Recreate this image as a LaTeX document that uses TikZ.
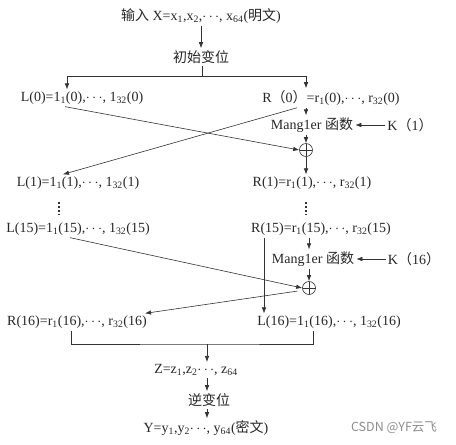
\documentclass[tikz,border=0pt]{standalone}
\usepackage{fontspec}
\setmainfont{Liberation Serif}
\newfontfamily\cjk{Noto Sans CJK SC}
\usetikzlibrary{arrows.meta}
\tikzstyle{every node}=[inner sep=2pt,text=black!85]
\tikzstyle{lbl}=[font=\fontsize{14}{16}\selectfont]
\tikzstyle{xorop}=[circle,draw,minimum size=13pt,inner sep=0pt,
  path picture={\draw (path picture bounding box.north) -- (path picture bounding box.south)
  (path picture bounding box.west) -- (path picture bounding box.east);}]
\tikzstyle{dots}=[line width=1.3pt,dash pattern=on 2.5pt off 1.5pt]
\newcommand\zh[1]{{\cjk #1}}
\newcommand\dn[1]{\textsubscript{#1}}

\begin{document}
\begin{tikzpicture}[x=1pt,y=-1pt,>={Latex[length=6pt,width=4.5pt]},lbl,color=black!80,line width=0.6pt]
\useasboundingbox (0,0) rectangle (456,445);
\node (in)  at (201,16)                          {\zh{输入} X=x\dn{1},x\dn{2},$\cdots$, x\dn{64}(\zh{明文})};
\node (ip)  [below of=in,node distance=41pt]     {\zh{初始变位}};
\node (L0)  at (82,98)                           {L(0)=1\dn{1}(0),$\cdots$, 1\dn{32}(0)};
\node (R0)  [right of=L0,node distance=249pt]    {R\zh{（}0\zh{）}=r\dn{1}(0),$\cdots$, r\dn{32}(0)};
\node (M1)  at (312,125)                         {Mang1er \zh{函数}};
\node (K1)  [right of=M1,node distance=98pt]     {K\zh{（}1\zh{）}};
\node[xorop] (X1) at (306,150)                   {};
\node (L1)  at (78,183)                          {L(1)=1\dn{1}(1),$\cdots$, 1\dn{32}(1)};
\node (R1)  [right of=L1,node distance=234pt]    {R(1)=r\dn{1}(1),$\cdots$, r\dn{32}(1)};
\node (L15) at (78,229)                          {L(15)=1\dn{1}(15),$\cdots$, 1\dn{32}(15)};
\node (R15) [right of=L15,node distance=243pt]   {R(15)=r\dn{1}(15),$\cdots$, r\dn{32}(15)};
\node (M2)  at (313,259)                         {Mang1er \zh{函数}};
\node (K16) [right of=M2,node distance=101pt]    {K\zh{（}16\zh{）}};
\node[xorop] (X2) at (309,288)                   {};
\node (R16) at (77,322)                          {R(16)=r\dn{1}(16),$\cdots$, r\dn{32}(16)};
\node (L16) [right of=R16,node distance=252pt]   {L(16)=1\dn{1}(16),$\cdots$, 1\dn{32}(16)};
\node (Z)   at (196,370)                         {Z=z\dn{1},z\dn{2}$\cdots$, z\dn{64}};
\node (inv) at (209,400)                         {\zh{逆变位}};
\node (Y)   at (206,428)                         {Y=y\dn{1},y\dn{2}$\cdots$, y\dn{64}(\zh{密文})};
\node[font=\cjk\fontsize{12.5}{14}\selectfont,text=black!45] (wm) at (394,428) {CSDN @YF云飞};
\coordinate (sp) at (202,76);
\coordinate (jn) at (207,344);
% top
\draw[->] (in.south -| in) -- (ip.north -| in);
\draw (ip.south -| sp) -- (sp);
\draw[->] (sp) -| ([xshift=-15pt]L0.north);
\draw[->] (sp) -| (R0.north -| X1);
% round 1
\path[->] (R0.south -| X1) edge (M1.north -| X1)
          (K1.west)        edge (M1.east)
          (M1.south -| X1) edge (X1.north)
          (X1.south)       edge (R1.north -| X1);
\draw[->] ([xshift=-17pt]L0.south) -- (X1.west);
\draw[->] ([xshift=-34pt]R0.south) -- ([xshift=-15pt]L1.north);
\draw[dots,shorten <=10pt,shorten >=5pt] ([xshift=-19pt]L1.south) -- ([xshift=-19pt]L1.south |- L15.north);
\draw[dots,shorten <=10pt,shorten >=5pt] (R1.south -| X1) -- (R15.north -| X1);
% round 16
\path[->] (R15.south -| X2) edge (M2.north -| X2)
          (K16.west)        edge (M2.east)
          (M2.south -| X2)  edge (X2.north);
\draw[->] ([xshift=-8pt]L15.south) -- (X2.west);
\draw[->] ([xshift=-57pt]R15.south) -- ([xshift=-57pt]R15.south |- L16.north);
\draw[->,shorten <=5pt] (X2.200) -- ([xshift=-4pt]R16.north east);
% output
\draw ([xshift=-6pt]R16.south) |- (jn) -| ([xshift=-16pt]L16.south);
\draw[->] (jn) -- (Z.north -| jn);
\draw[->] (Z.south -| jn) -- (inv.north -| jn);
\draw[->] (inv.south -| jn) -- (Y.north -| jn);
\end{tikzpicture}
\end{document}
